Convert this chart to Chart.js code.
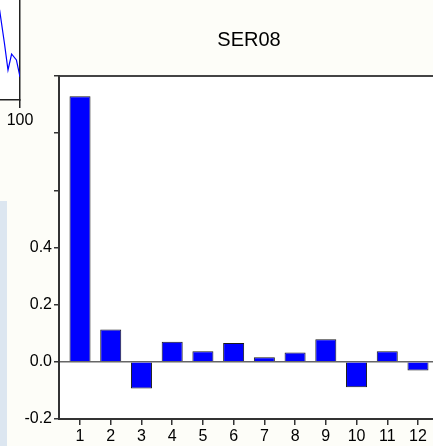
<!DOCTYPE html>
<html>
<head>
<meta charset="utf-8">
<script src="https://cdn.jsdelivr.net/npm/chart.js@4.4.1/dist/chart.umd.min.js"></script>
<style>
html, body { margin: 0; padding: 0; width: 433px; height: 446px; overflow: hidden; background: #fdfdf8; position: relative; }
#main { position: absolute; left: 0; top: 0; }
#frag { position: absolute; left: -100px; top: 0; }
#side { position: absolute; left: 0; top: 201px; width: 7px; height: 245px; background: #dce6f0; }
</style>
</head>
<body>
<div id="side"></div>
<canvas id="frag" width="140" height="130"></canvas>
<canvas id="main" width="502" height="446"></canvas>
<script>
// correlogram of SER08
const chartTitle = "SER08";
const lags = [1, 2, 3, 4, 5, 6, 7, 8, 9, 10, 11, 12];
const acf = [0.929, 0.113, -0.093, 0.070, 0.037, 0.066, 0.016, 0.033, 0.079, -0.089, 0.037, -0.030];
const yTicks = [-0.2, 0.0, 0.2, 0.4, 0.6, 0.8, 1.0];
const yLabelled = [-0.2, 0.0, 0.2, 0.4];

// bit of the neighbouring window at the top left
const fragX = [80, 83, 87, 90, 93, 97, 100];
const fragY = [95, 90, 57, 30, 46, 40, 23];
const fragTicks = [100];

const FONT = "'Liberation Sans', Arial, sans-serif";
Chart.defaults.font.family = FONT;
Chart.defaults.color = "#000";

const whitePlot = {
    id: "whitePlot",
    beforeDraw(chart) {
        const a = chart.chartArea;
        const ctx = chart.ctx;
        ctx.save();
        ctx.fillStyle = "#ffffff";
        ctx.fillRect(a.left, a.top, a.right - a.left, a.bottom - a.top);
        ctx.restore();
    }
};

new Chart(document.getElementById("main").getContext("2d"), {
    type: "bar",
    data: {
        labels: lags,
        datasets: [{
            data: acf,
            backgroundColor: "#0000ff",
            borderColor: "#1a1a1a",
            borderWidth: 1,
            barPercentage: 0.76,
            categoryPercentage: 0.9
        }]
    },
    options: {
        responsive: false,
        devicePixelRatio: 1,
        animation: false,
        layout: { padding: { left: 0, right: 63, top: 0, bottom: 0 } },
        plugins: {
            legend: { display: false },
            tooltip: { enabled: false },
            title: {
                display: true,
                fullSize: false,
                text: chartTitle,
                color: "#000",
                font: { size: 20, weight: "normal", family: FONT, lineHeight: 1.2 },
                padding: { top: 28, bottom: 24 }
            }
        },
        scales: {
            x: {
                type: "linear",
                position: "bottom",
                offset: false,
                min: 0.316,
                max: 12.684,
                afterBuildTicks: s => { s.ticks = lags.map(v => ({ value: v })); },
                afterFit: s => { s.height = 27; },
                grid: { offset: false, drawOnChartArea: false, drawTicks: true, tickLength: 6, color: "#333", lineWidth: 1.5 },
                border: { display: true, color: "#333", width: 2 },
                ticks: { font: { size: 16 }, color: "#000", padding: 2, maxRotation: 0, autoSkip: false, callback: v => String(v) }
            },
            xTop: {
                type: "linear",
                position: "top",
                offset: false,
                min: 0.316,
                max: 12.684,
                afterFit: s => { s.height = 0; },
                grid: { display: false, drawTicks: false },
                border: { display: true, color: "#444", width: 2 },
                ticks: { display: false }
            },
            y: {
                min: -0.2,
                max: 1.0,
                afterBuildTicks: s => { s.ticks = yTicks.map(v => ({ value: v })); },
                afterFit: s => { s.width = 59; },
                grid: {
                    drawOnChartArea: true,
                    drawTicks: true,
                    tickLength: 5,
                    tickColor: "#333",
                    tickWidth: 1.5,
                    color: c => (c.tick && Math.abs(c.tick.value) < 1e-9) ? "#666" : "rgba(0,0,0,0)",
                    lineWidth: 1.5
                },
                border: { display: true, color: "#333", width: 2 },
                ticks: {
                    font: { size: 16 },
                    color: "#000",
                    padding: 2,
                    autoSkip: false,
                    callback: v => yLabelled.some(t => Math.abs(t - v) < 1e-9) ? v.toFixed(1) : ""
                }
            }
        }
    },
    plugins: [whitePlot]
});

new Chart(document.getElementById("frag").getContext("2d"), {
    type: "line",
    data: {
        datasets: [{
            data: fragX.map((x, i) => ({ x: x, y: fragY[i] })),
            borderColor: "#0000ff",
            borderWidth: 1.2,
            pointRadius: 0,
            tension: 0
        }]
    },
    options: {
        responsive: false,
        devicePixelRatio: 1,
        animation: false,
        layout: { padding: { left: 0, right: 20, top: 0, bottom: 0 } },
        plugins: { legend: { display: false }, tooltip: { enabled: false } },
        scales: {
            x: {
                type: "linear",
                min: 0,
                max: 100,
                afterBuildTicks: s => { s.ticks = fragTicks.map(v => ({ value: v })); },
                afterFit: s => { s.height = 30; },
                grid: { drawOnChartArea: false, drawTicks: true, tickLength: 8, color: "#222", lineWidth: 1.5 },
                border: { display: true, color: "#222", width: 1.5 },
                ticks: { font: { size: 16 }, color: "#000", padding: 3, maxRotation: 0 }
            },
            y: {
                type: "linear",
                position: "right",
                min: 0,
                max: 100,
                afterFit: s => { s.width = 0; },
                grid: { display: false, drawTicks: false },
                border: { display: true, color: "#222", width: 1.5 },
                ticks: { display: false }
            }
        }
    },
    plugins: [whitePlot]
});
</script>
</body>
</html>
